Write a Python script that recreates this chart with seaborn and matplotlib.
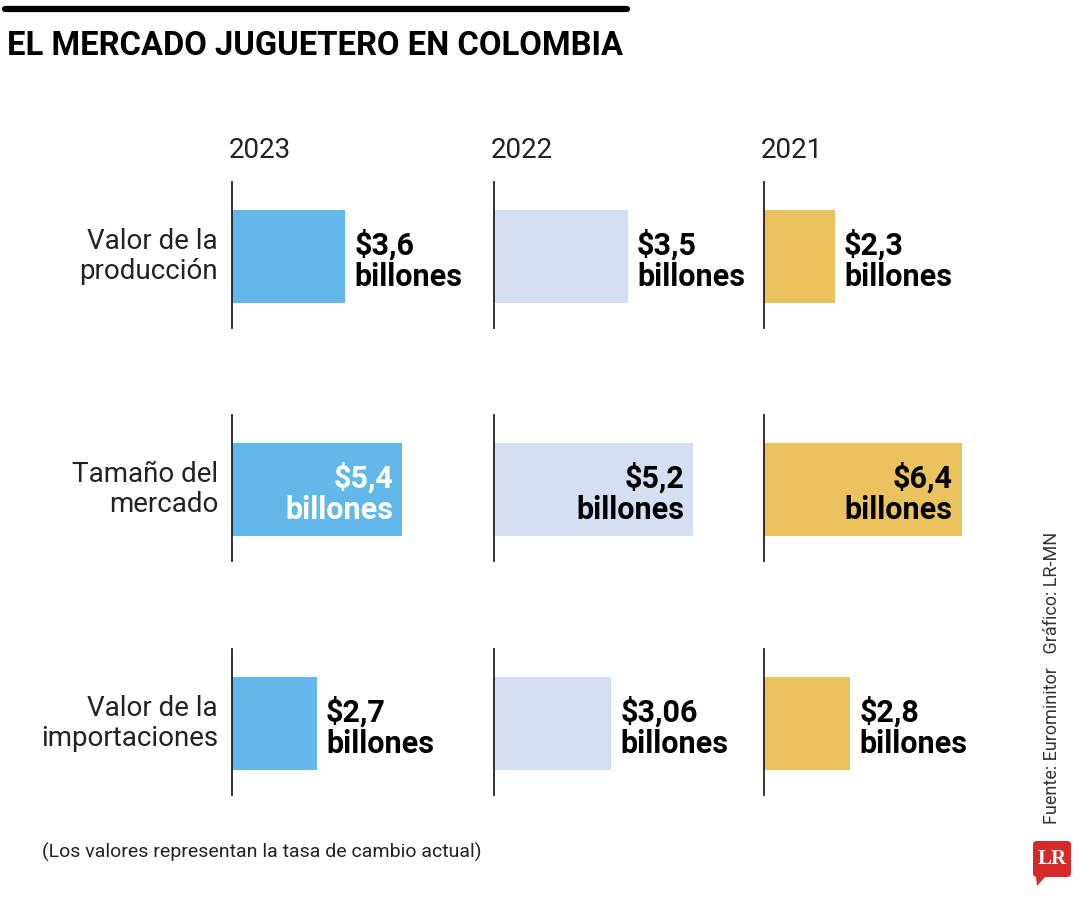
import matplotlib
matplotlib.use('Agg')
import matplotlib.pyplot as plt
import pandas as pd
import seaborn as sns
from matplotlib.patches import FancyBboxPatch, Polygon

# Data
years = ['2023', '2022', '2021']
metrics = ['Valor de la\nproducción', 'Tamaño del\nmercado', 'Valor de la\nimportaciones']
v2023 = [3.6, 5.4, 2.7]
v2022 = [3.5, 5.2, 3.06]
v2021 = [2.3, 6.4, 2.8]
values = {'2023': v2023, '2022': v2022, '2021': v2021}
colors = {'2023': '#62b8e8', '2022': '#d3dff2', '2021': '#eac25e'}

sns.set_style('white')
plt.rcParams['font.family'] = ['Roboto', 'DejaVu Sans']

fig = plt.figure(figsize=(10.8, 9), dpi=100)

# layout (figure fractions)
col_left = [232 / 1080, 494 / 1080, 764 / 1080]
col_w = 250 / 1080
col_xmax = [7.94, 6.53, 8.1]
row_bottom = [1 - 328 / 900, 1 - 561 / 900, 1 - 795 / 900]
row_h = 146 / 900

for c, yr in enumerate(years):
    for r, m in enumerate(metrics):
        ax = fig.add_axes([col_left[c], row_bottom[r], col_w, row_h])
        df = pd.DataFrame({'metric': [m], 'value': [values[yr][r]]})
        sns.barplot(data=df, x='value', y='metric', ax=ax, color=colors[yr],
                    width=0.64, saturation=1, edgecolor='none')
        ax.set_xlim(0, col_xmax[c])
        ax.set_ylim(0.49, -0.51)
        ax.set_xlabel('')
        ax.set_ylabel('')
        ax.set_xticks([])
        ax.set_yticks([])
        for s in ['top', 'right', 'bottom']:
            ax.spines[s].set_visible(False)
        ax.spines['left'].set_color('#222222')
        ax.spines['left'].set_linewidth(1.3)
        ax.patch.set_alpha(0)

        v = values[yr][r]
        txt = '$' + str(v).replace('.', ',') + '\nbillones'
        if r == 1:
            tc = 'white' if yr == '2023' else 'black'
            ax.annotate(txt, xy=(v, 0), xytext=(-9, -4), textcoords='offset pixels',
                        ha='right', va='center', fontsize=22, fontweight='bold',
                        color=tc, linespacing=1.05)
        else:
            ax.annotate(txt, xy=(v, 0), xytext=(9, -4), textcoords='offset pixels',
                        ha='left', va='center', fontsize=22, fontweight='bold',
                        color='black', linespacing=1.05)

        if c == 0:
            fig.text(218 / 1080, row_bottom[r] + row_h * 0.49, m, ha='right',
                     va='center', fontsize=20, color='#222222', linespacing=1.12)

    fig.text(col_left[c] - 3 / 1080, 1 - 150 / 900, yr, ha='left', va='center',
             fontsize=20, color='#222222')

# Title and top rule
fig.add_artist(plt.Line2D([5 / 1080, 627 / 1080], [1 - 9 / 900, 1 - 9 / 900],
                          color='black', lw=4.5))
fig.text(7 / 1080, 1 - 46 / 900, 'EL MERCADO JUGUETERO EN COLOMBIA', ha='left',
         va='center', fontsize=23.6, fontweight='bold', color='black')

fig.text(42 / 1080, 1 - 852 / 900, '(Los valores representan la tasa de cambio actual)',
         ha='left', va='center', fontsize=14, color='#222222')

fig.text(1052 / 1080, 1 - 678 / 900, 'Fuente: Eurominitor   Gráfico: LR-MN',
         rotation=90, ha='center', va='center', fontsize=13, color='#333333')

# LR logo
logo = FancyBboxPatch((1033 / 1080, 1 - 877 / 900), 38 / 1080, 36 / 900,
                      boxstyle='round,pad=0,rounding_size=0.004',
                      transform=fig.transFigure, facecolor='#d42a2a', edgecolor='none')
fig.add_artist(logo)
tail = Polygon([(1036 / 1080, 1 - 876 / 900), (1046 / 1080, 1 - 876 / 900),
                (1037 / 1080, 1 - 886 / 900)], closed=True,
               transform=fig.transFigure, facecolor='#d42a2a', edgecolor='none')
fig.add_artist(tail)
fig.text(1052 / 1080, 1 - 859 / 900, 'LR', ha='center', va='center', fontsize=15,
         fontweight='bold', color='white', family=['Liberation Serif', 'DejaVu Serif'])

fig.savefig('out.png', dpi=100)
